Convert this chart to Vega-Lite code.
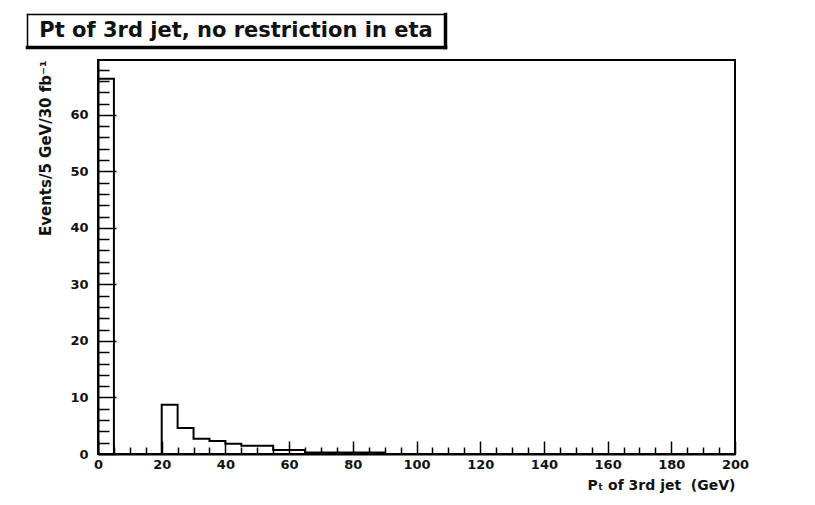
{
  "$schema": "https://vega.github.io/schema/vega-lite/v6.json",
  "background": "white",
  "padding": {"left": 27, "top": 14, "right": 10, "bottom": 5},
  "spacing": 11,
  "config": {
    "view": {"stroke": "black", "strokeWidth": 2},
    "axis": {
      "grid": false,
      "domainColor": "black",
      "domainWidth": 2,
      "tickColor": "black",
      "tickWidth": 1.5,
      "labelFont": "DejaVu Sans",
      "labelFontWeight": "bold",
      "labelFontSize": 13,
      "labelColor": "#111",
      "titleFont": "DejaVu Sans",
      "titleFontWeight": "bold",
      "titleColor": "#111"
    }
  },
  "vconcat": [
    {
      "width": 347,
      "height": 33,
      "view": {"stroke": null},
      "data": {"values": [{"label": "Pt of 3rd jet, no restriction in eta"}]},
      "layer": [
        {
          "mark": {"type": "text", "font": "DejaVu Sans", "fontWeight": "bold", "fontSize": 21, "color": "#111"},
          "encoding": {
            "x": {"field": "label", "type": "nominal", "scale": {"range": [-71, 347]},
                  "axis": {"orient": "top", "title": null, "labels": false, "ticks": false, "domainWidth": 1.5, "domainCap": "square"}},
            "y": {"field": "label", "type": "nominal",
                  "axis": {"orient": "left", "offset": 71, "title": null, "labels": false, "ticks": false, "domainWidth": 1.5, "domainCap": "square"}},
            "text": {"field": "label", "type": "nominal"}
          }
        },
        {
          "mark": {"type": "text", "opacity": 0},
          "encoding": {
            "x": {"field": "label", "type": "nominal",
                  "axis": {"orient": "bottom", "title": null, "labels": false, "ticks": false, "domainWidth": 3.5, "domainCap": "square"}},
            "y": {"field": "label", "type": "nominal",
                  "axis": {"orient": "right", "title": null, "labels": false, "ticks": false, "domainWidth": 3.5, "domainCap": "square"}},
            "text": {"field": "label", "type": "nominal"}
          }
        }
      ],
      "resolve": {"axis": {"x": "independent", "y": "independent"}}
    },
    {
      "width": 637,
      "height": 394,
      "data": {
        "values": [
          {"pt_low": 0, "events": 66.4},
          {"pt_low": 5, "events": 0},
          {"pt_low": 10, "events": 0},
          {"pt_low": 15, "events": 0},
          {"pt_low": 20, "events": 8.7},
          {"pt_low": 25, "events": 4.6},
          {"pt_low": 30, "events": 2.7},
          {"pt_low": 35, "events": 2.3},
          {"pt_low": 40, "events": 1.8},
          {"pt_low": 45, "events": 1.45},
          {"pt_low": 50, "events": 1.45},
          {"pt_low": 55, "events": 0.7},
          {"pt_low": 60, "events": 0.7},
          {"pt_low": 65, "events": 0.25},
          {"pt_low": 70, "events": 0.25},
          {"pt_low": 75, "events": 0.25},
          {"pt_low": 80, "events": 0.25},
          {"pt_low": 85, "events": 0.25},
          {"pt_low": 90, "events": 0}
        ]
      },
      "mark": {"type": "line", "interpolate": "step-after", "color": "black", "strokeWidth": 2},
      "encoding": {
        "x": {
          "field": "pt_low",
          "type": "quantitative",
          "scale": {"domain": [0, 200], "nice": false, "zero": false},
          "axis": {
            "values": [0,5,10,15,20,25,30,35,40,45,50,55,60,65,70,75,80,85,90,95,100,105,110,115,120,125,130,135,140,145,150,155,160,165,170,175,180,185,190,195,200],
            "labelExpr": "datum.value % 20 === 0 ? datum.label : ''",
            "tickSize": {"condition": {"test": "datum.value % 20 === 0", "value": -13}, "value": -7},
            "labelPadding": 17,
            "labelFlush": false,
            "labelOverlap": false,
            "title": "Pₜ of 3rd jet \u00a0(GeV)",
            "titleAnchor": "end",
            "titleFontSize": 14,
            "titlePadding": 1
          }
        },
        "y": {
          "field": "events",
          "type": "quantitative",
          "scale": {"domain": [0, 69.7], "nice": false},
          "axis": {
            "values": [0,2,4,6,8,10,12,14,16,18,20,22,24,26,28,30,32,34,36,38,40,42,44,46,48,50,52,54,56,58,60,62,64,66,68],
            "labelExpr": "datum.value % 10 === 0 ? datum.label : ''",
            "tickSize": {"condition": {"test": "datum.value % 10 === 0", "value": -18}, "value": -11},
            "labelPadding": 28,
            "labelFlush": false,
            "labelOverlap": false,
            "title": "Events/5 GeV/30 fb⁻¹",
            "titleAnchor": "end",
            "titleFontSize": 15,
            "titlePadding": 16
          }
        }
      }
    }
  ]
}
